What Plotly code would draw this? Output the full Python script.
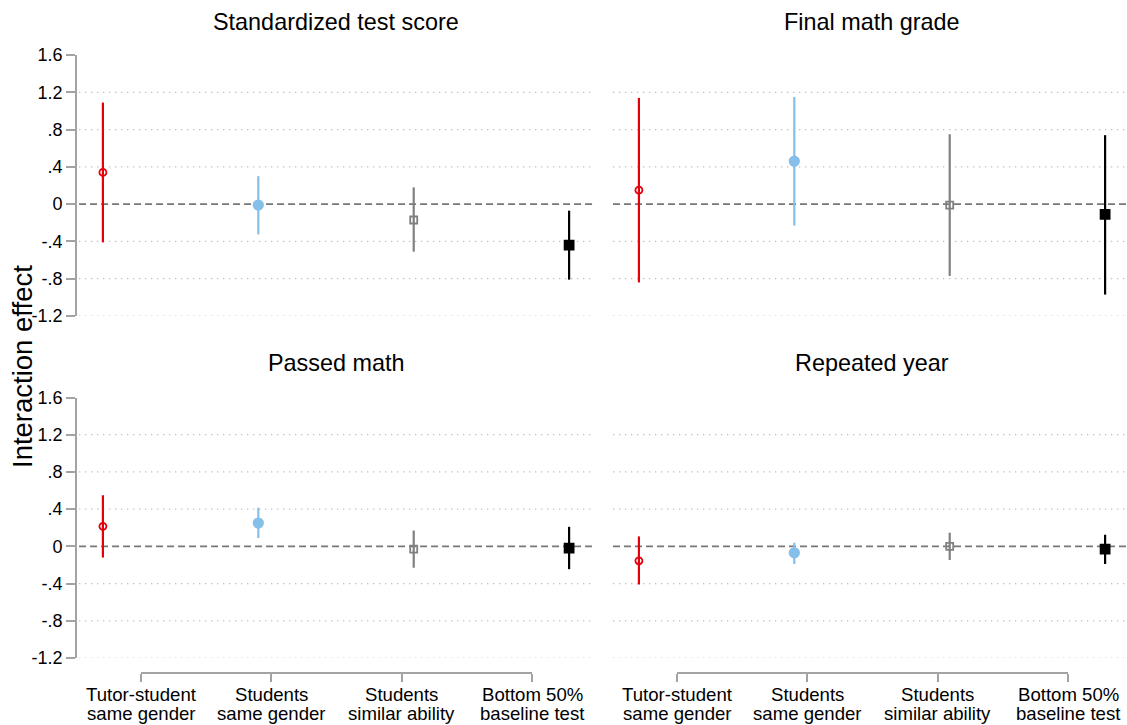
import plotly.graph_objects as go

W, H = 1127, 725

# Panel titles (outcomes), in reading order: top-left, top-right, bottom-left, bottom-right
outcomes = ["Standardized test score", "Final math grade", "Passed math", "Repeated year"]

# Interaction terms shown along the horizontal axis (two-line labels)
cat_line1 = ["Tutor-student", "Students", "Students", "Bottom 50%"]
cat_line2 = ["same gender", "same gender", "similar ability", "baseline test"]
positions = [1, 2, 3, 4]

# Point estimates and 95% confidence bounds: one row per outcome, one column per interaction
coef = [
    [0.34, -0.01, -0.17, -0.44],
    [0.15, 0.46, -0.01, -0.11],
    [0.215, 0.25, -0.03, -0.02],
    [-0.155, -0.07, 0.00, -0.03],
]
ci_low = [
    [-0.41, -0.325, -0.51, -0.81],
    [-0.84, -0.23, -0.77, -0.97],
    [-0.12, 0.09, -0.23, -0.245],
    [-0.41, -0.19, -0.147, -0.19],
]
ci_high = [
    [1.09, 0.30, 0.18, -0.07],
    [1.14, 1.15, 0.75, 0.74],
    [0.55, 0.415, 0.17, 0.21],
    [0.107, 0.04, 0.147, 0.125],
]

ytick_vals = [1.6, 1.2, 0.8, 0.4, 0, -0.4, -0.8, -1.2]
ytick_text = ["1.6", "1.2", ".8", ".4", "0", "-.4", "-.8", "-1.2"]
grid_vals = [1.2, 0.8, 0.4, -0.4, -0.8, -1.2]

# Marker look for each interaction term
colors = ["#e5000c", "#86bfe9", "#808080", "#000000"]
symbols = ["circle-open", "circle", "square-open", "square"]
sizes = [7, 9.5, 7, 9]

FONT = "Liberation Sans, Arial, sans-serif"
AXIS_GRAY = "#a3a3a3"

px_per_unit = 155.4
xd_left = [77 / W, 595 / W]
xd_right = [613 / W, 1.0]
yd_top = [1 - 316 / H, 1 - 55 / H]
yd_bot = [1 - 658 / H, 1 - 397.5 / H]
x_lo = 0.8333
xr_left = [x_lo, x_lo + (595 - 77) / px_per_unit]
xr_right = [x_lo, x_lo + (W - 613) / px_per_unit]

panels = [
    dict(x="x", y="y", xd=xd_left, yd=yd_top, xr=xr_left, left=True),
    dict(x="x2", y="y2", xd=xd_right, yd=yd_top, xr=xr_right, left=False),
    dict(x="x3", y="y3", xd=xd_left, yd=yd_bot, xr=xr_left, left=True),
    dict(x="x4", y="y4", xd=xd_right, yd=yd_bot, xr=xr_right, left=False),
]

fig = go.Figure()
layout = dict(
    width=W, height=H,
    margin=dict(l=0, r=0, t=0, b=0, pad=0, autoexpand=False),
    paper_bgcolor="white", plot_bgcolor="white",
    showlegend=False,
    font=dict(family=FONT, color="black"),
)
shapes = []
annotations = []

for p, pan in enumerate(panels):
    ax_x = "xaxis" if pan["x"] == "x" else "xaxis" + pan["x"][1:]
    ax_y = "yaxis" if pan["y"] == "y" else "yaxis" + pan["y"][1:]
    layout[ax_x] = dict(domain=pan["xd"], range=pan["xr"], visible=False,
                        anchor=pan["y"], fixedrange=True, automargin=False)
    layout[ax_y] = dict(
        domain=pan["yd"], range=[-1.2, 1.6], anchor=pan["x"],
        showgrid=False, zeroline=False, fixedrange=True, automargin=False,
        tickmode="array", tickvals=ytick_vals, ticktext=ytick_text,
        showline=pan["left"], linecolor=AXIS_GRAY, linewidth=1.8,
        ticks="outside" if pan["left"] else "", ticklen=9, tickwidth=1.8,
        tickcolor=AXIS_GRAY, showticklabels=pan["left"],
        tickfont=dict(size=18, family=FONT, color="black"),
    )

    # dotted reference grid and dashed zero line
    for g in grid_vals:
        shapes.append(dict(type="line", xref=pan["x"] + " domain", yref=pan["y"],
                           x0=0.004 if pan["left"] else 0, x1=1, y0=g, y1=g,
                           line=dict(color="#bdbdbd", width=1.2, dash="1.3px,4.7px"),
                           layer="below"))
    shapes.append(dict(type="line", xref=pan["x"] + " domain", yref=pan["y"],
                       x0=0.004 if pan["left"] else 0, x1=1, y0=0, y1=0,
                       line=dict(color="#777777", width=1.8, dash="7px,4px"),
                       layer="below"))

    for k in range(4):
        c = coef[p][k]
        fig.add_trace(go.Scatter(
            x=[positions[k]], y=[c], mode="markers",
            xaxis=pan["x"], yaxis=pan["y"],
            marker=dict(symbol=symbols[k], size=sizes[k], color=colors[k],
                        line=dict(color=colors[k], width=1.8)),
            error_y=dict(type="data", symmetric=False,
                         array=[ci_high[p][k] - c], arrayminus=[c - ci_low[p][k]],
                         color=colors[k], thickness=2.2, width=0),
            hoverinfo="skip",
        ))

    # panel title
    cx = (pan["xd"][0] * W + 259) / W
    ty = 22 if pan["yd"] == yd_top else 363
    annotations.append(dict(text=outcomes[p], x=cx, y=1 - ty / H, xref="paper", yref="paper",
                            xanchor="center", yanchor="middle", showarrow=False,
                            font=dict(size=23.4, family=FONT, color="black")))

# Category brackets under the bottom panels
bracket_domains = {"x5": [141 / W, 532 / W], "x6": [677 / W, 1068 / W]}
layout["yaxis5"] = dict(domain=[0, 0.05], visible=False, fixedrange=True, automargin=False)
for name, dom in bracket_domains.items():
    layout["xaxis" + name[1:]] = dict(
        domain=dom, range=[1, 4], anchor="free", position=1 - 673 / H,
        showline=True, linecolor=AXIS_GRAY, linewidth=1.6,
        ticks="outside", ticklen=8, tickwidth=1.6, tickcolor=AXIS_GRAY,
        tickmode="array", tickvals=positions, showticklabels=False,
        showgrid=False, zeroline=False, fixedrange=True, automargin=False,
    )
    fig.add_trace(go.Scatter(x=[None], y=[None], xaxis=name, yaxis="y5",
                             mode="markers", hoverinfo="skip"))
    for k in range(4):
        annotations.append(dict(text=cat_line1[k], x=positions[k], xref=name,
                                y=1 - 694 / H, yref="paper", xanchor="center",
                                yanchor="middle", showarrow=False,
                                font=dict(size=18.6, family=FONT, color="black")))
        annotations.append(dict(text=cat_line2[k], x=positions[k], xref=name,
                                y=1 - 713 / H, yref="paper", xanchor="center",
                                yanchor="middle", showarrow=False,
                                font=dict(size=18.6, family=FONT, color="black")))

# shared vertical axis title
annotations.append(dict(text="Interaction effect", x=22 / W, y=1 - 367 / H,
                        xref="paper", yref="paper", textangle=-90,
                        xanchor="center", yanchor="middle", showarrow=False,
                        font=dict(size=27.5, family=FONT, color="black")))

layout["shapes"] = shapes
layout["annotations"] = annotations
fig.update_layout(**layout)
fig.write_html("out.html")
